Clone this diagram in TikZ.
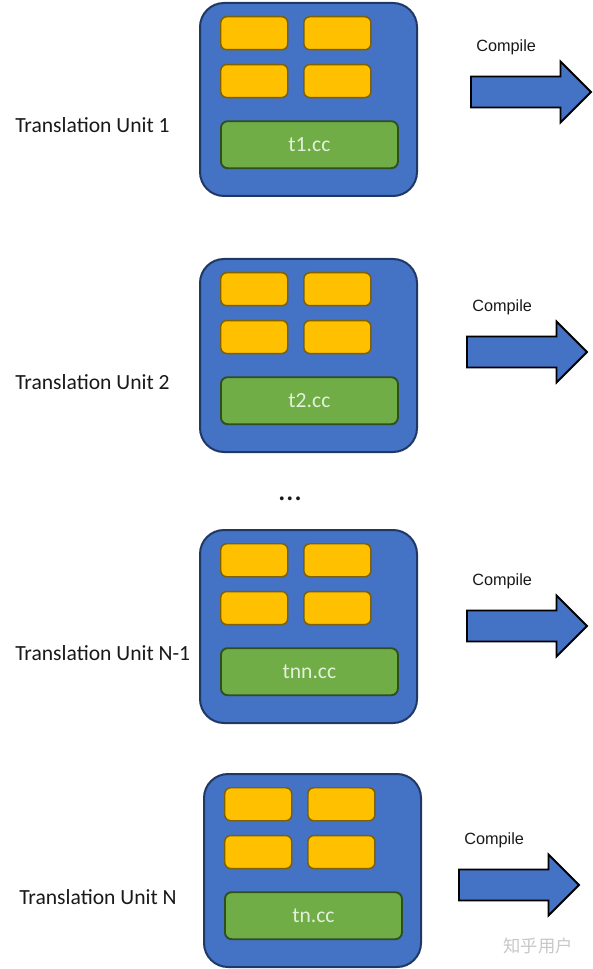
\documentclass[tikz,border=0pt]{standalone}
\usepackage{fontspec}
\setmainfont{Carlito}
\newfontfamily\compilefont{Liberation Sans}
\newfontfamily\cjkfont{Noto Sans CJK SC}
\usetikzlibrary{positioning,shapes.arrows}

\definecolor{unitblue}{HTML}{4472C4}
\definecolor{unitedge}{HTML}{1F3864}
\definecolor{declyellow}{HTML}{FFC000}
\definecolor{decledge}{HTML}{7F6000}
\definecolor{srcgreen}{HTML}{70AD47}
\definecolor{srcedge}{HTML}{2F4F1C}
\definecolor{srctext}{HTML}{E2F0D9}

\begin{document}
\begin{tikzpicture}[x=0.75pt,y=-0.75pt]
  \tikzstyle{every node}=[font=\fontsize{16.2}{19}\selectfont, text=black!90]
  \tikzstyle{unitbox}=[rectangle, rounded corners=18pt, minimum width=162.75pt,
                minimum height=144.75pt, fill=unitblue, draw=unitedge, line width=1.5pt,
                anchor=north west]
  \tikzstyle{declbox}=[rectangle, rounded corners=4.5pt, minimum width=50.25pt,
                minimum height=24.75pt, fill=declyellow, draw=decledge, line width=1.1pt,
                anchor=north west]
  \tikzstyle{srcbox}=[rectangle, rounded corners=5pt, minimum width=132.75pt,
                minimum height=35.25pt, fill=srcgreen, draw=srcedge, line width=1.4pt,
                text=srctext]
  \tikzstyle{compilearrow}=[single arrow, single arrow head extend=11.25pt, inner xsep=0pt,
                inner ysep=10.9pt, minimum height=90pt, fill=unitblue, draw=black,
                line width=1.4pt, anchor=west]

  \useasboundingbox (0,0) rectangle (592,969);

  % Translation units
  \foreach \ux/\uy/\lx/\ly/\ax/\ay/\lab/\src [count=\i] in
      {199/2/15/125/470/92/1/t1.cc, 199/258/15/382/466/352/2/t2.cc,
       199/529/15/653/466/626/N-1/tnn.cc, 203/773/19/897/458/885/N/tn.cc}
  {
    \node (unit\i) [unitbox] at (\ux,\uy) {};
    \node (decl\i a) [declbox, xshift=15.75pt, yshift=-10.5pt] at (unit\i.north west) {};
    \node (decl\i b) [declbox, right=11pt of decl\i a] {};
    \node (decl\i c) [declbox, below=10pt of decl\i a] {};
    \node (decl\i d) [declbox, right=11pt of decl\i c] {};
    \node (src\i) [srcbox, below=16.5pt of decl\i c.south west, anchor=north west] {\src};

    \node (label\i) [anchor=west, inner xsep=0pt] at (\lx,\ly) {Translation Unit \lab};

    % Arrows
    \node (arrow\i) [compilearrow] at (\ax,\ay) {};
    \node (compile\i) [anchor=west, inner xsep=0pt, font=\compilefont\fontsize{12.2}{14}\selectfont]
          at (\ax+6,\ay-45) {Compile};
  }

  \node (dots) [anchor=base, font=\fontsize{24}{26}\selectfont] at (290,500) {...};
  \node (mark) [text=black!22, font=\cjkfont\fontsize{13}{15}\selectfont] at (538,946) {知乎用户};
\end{tikzpicture}
\end{document}
